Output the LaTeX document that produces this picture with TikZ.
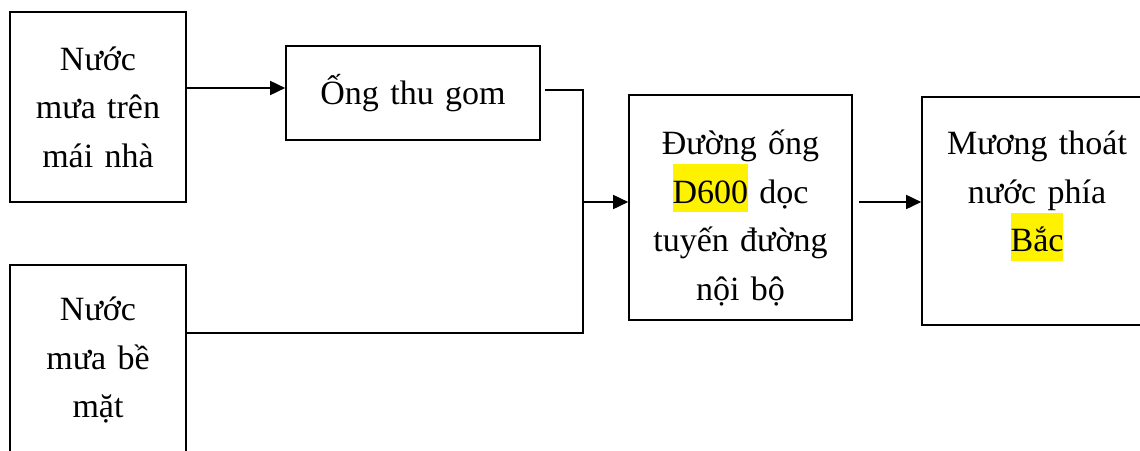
\documentclass[tikz,border=0pt]{standalone}
\usepackage{fontspec}
\setmainfont{Liberation Serif}
\usetikzlibrary{arrows.meta}

\newcommand{\vang}[1]{{\setlength{\fboxsep}{0pt}\colorbox{yellow}{\rule[-9pt]{0pt}{48pt}#1}}}
\tikzset{
    blok/.style={draw, line width=1.6pt, inner sep=0pt, align=center,
        font=\fontsize{34pt}{48.5pt}\selectfont},
    lijn/.style={line width=1.6pt},
    pil/.style={line width=1.6pt, -{Triangle[length=15pt,width=14pt]}}
}

\begin{document}
\begin{tikzpicture}[x=1pt, y=-1pt]
    \useasboundingbox (0,0) rectangle (1140,450);

    % Sources of rain water
    \node[blok, minimum width=176pt, minimum height=190pt, text width=170pt] (roof) at (98,107) {Nước\\ mưa trên\\ mái nhà};
    \node[blok, minimum width=176pt, minimum height=190pt, text width=170pt] (surface) at (98,360) {Nước\\ mưa bề\\ mặt};

    % Collection and drainage
    \node[blok, minimum width=254pt, minimum height=94pt, text width=248pt] (ong) at (413,93) {Ống thu gom};
    \node[blok, minimum width=223pt, minimum height=225pt, text width=217pt] (duong) at (740.5,207.5) {\rule{0pt}{46pt}Đường ống\\ \vang{D600} dọc\\ tuyến đường\\ nội bộ};
    \node[blok, minimum width=230pt, minimum height=228pt, text width=224pt] (muong) at (1037,211) {Mương thoát\\ nước phía\\ \vang{Bắc}\rule[-39pt]{0pt}{1pt}};

    % Junction points
    \coordinate (j1) at ([yshift=5pt]ong.west);
    \coordinate (k1) at ([xshift=4pt,yshift=3pt]ong.east);
    \coordinate (k3) at ([yshift=27pt]surface.east);
    \coordinate (knot) at (583,202);
    \coordinate (k4) at ([xshift=6pt]duong.east);

    % Connectors
    \draw[pil] (j1 -| roof.east) -- (j1);
    \draw[lijn] (k1) -| (k3 -| knot) -- (k3);
    \draw[pil] (knot) -- (knot -| duong.west);
    \draw[pil] (k4 |- knot) -- (knot -| muong.west);
\end{tikzpicture}
\end{document}
